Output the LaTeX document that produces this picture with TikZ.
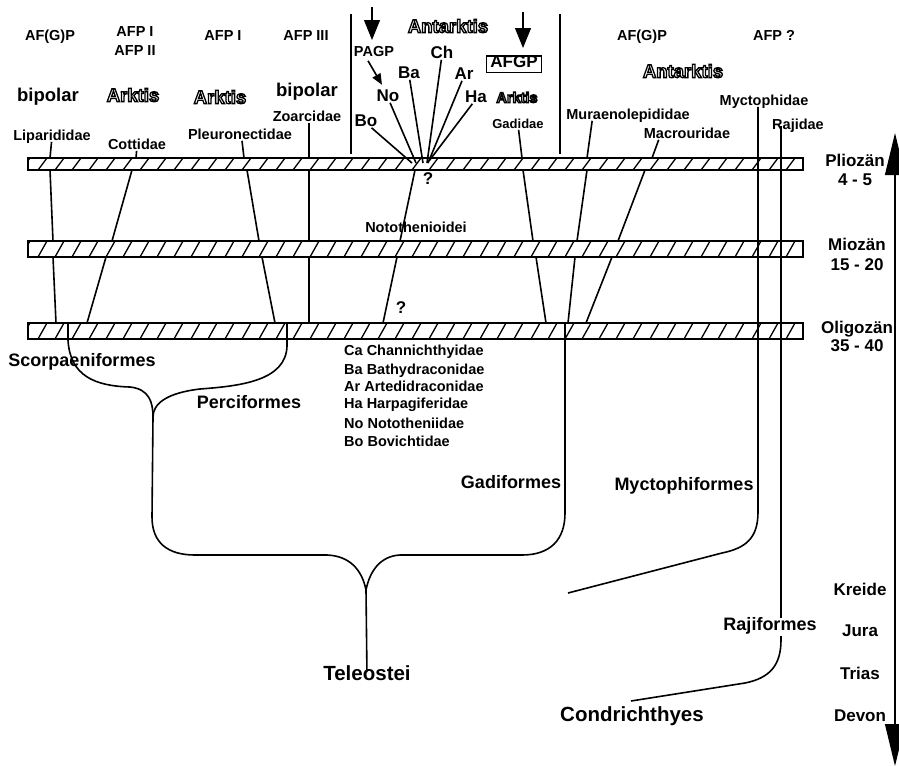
\documentclass[tikz,border=0pt]{standalone}
\usepackage{fontspec}
\setmainfont{Liberation Sans}
\usetikzlibrary{arrows.meta, positioning, calc}

% outlined lettering for the regions
\newcommand{\hollowtext}[1]{\special{pdf:literal direct 1 g 0 G 2 Tr 1.3 w}#1\special{pdf:literal direct 0 Tr 0 g}}

% hatched time band between two heights
\newcommand{\hatchband}[2]{%
  \begin{scope}
    \clip (28,#1) rectangle (803,#2);
    \fill[white] (28,#1) rectangle (803,#2);
    \foreach \hx in {21,38,...,815}
      \draw[hatch] (\hx,#2) -- ++(9,{#1-#2});
  \end{scope}
  \draw[rule] (28,#1) rectangle (803,#2);
}

\begin{document}
\begin{tikzpicture}[
    x=1pt, y=-1pt,
    every node/.style={inner sep=1pt, text height=0.72em, text depth=0pt},
    lab/.style={font=\bfseries\fontsize{14.5}{16}\selectfont},
    famtxt/.style={font=\bfseries\fontsize{17}{19}\selectfont},
    zonetxt/.style={font=\bfseries\fontsize{18.5}{20}\selectfont},
    ordertxt/.style={font=\bfseries\fontsize{18}{20}\selectfont},
    rootxt/.style={font=\bfseries\fontsize{20.5}{22}\selectfont},
    branch/.style={line width=1.6pt},
    rule/.style={line width=1.2pt},
    hatch/.style={line width=1.3pt}
]
\useasboundingbox (0,0) rectangle (899,766);

% --- time bands ---
\hatchband{158}{170}
\hatchband{241}{257}
\hatchband{323}{339}

% --- headers ---
\node[lab] (hLip) at (50,37) {AF(G)P};
\node[lab] (hCot) at (135,33) {AFP I};
\node[lab] (hCotb) at (135,52) {AFP II};
\node[lab] (hPle) at (223,37) {AFP I};
\node[lab] (hZoa) at (306,37) {AFP III};
\node[lab] (hMur) at (642,37) {AF(G)P};
\node[lab] (hMyc) at (774,37) {AFP ?};

\node[zonetxt] (zBip) at (48,98) {bipolar};
\node[zonetxt] (zArk) at (133,98) {\hollowtext{Arktis}};
\node[zonetxt] (zArkb) at (220,100) {\hollowtext{Arktis}};
\node[zonetxt] (zBipb) at (307,93) {bipolar};
\node[zonetxt] (zAnt) at (448,29) {\hollowtext{Antarktis}};
\node[lab] (zArkc) at (517,99) {\hollowtext{Arktis}};
\node[zonetxt] (zAntb) at (683,74) {\hollowtext{Antarktis}};

% --- Antarctic block ---
\coordinate (sepL) at (351,14);
\coordinate (sepR) at (560,14);
\draw[rule] (sepL) -- ++(0,140);
\draw[rule] (sepR) -- ++(0,140);
\coordinate (arrL) at (372,7);
\coordinate (arrR) at (523,12);
\draw[rule, -{Triangle[length=20pt,width=16pt]}] (arrL) -- ++(0,33);
\draw[rule, -{Triangle[length=20pt,width=16pt]}] (arrR) -- ++(0,36);

\node[lab] (pagp) at (374,53) {PAGP};
\node[famtxt] (No) at (388,98) {No};
\node[famtxt] (Ba) at (409,75) {Ba};
\node[famtxt] (Ch) at (442,55) {Ch};
\node[famtxt] (Ar) at (464,76) {Ar};
\node[famtxt] (Ha) at (476,99) {Ha};
\node[famtxt] (Bo) at (366,123) {Bo};
\node[famtxt, draw, rule, inner xsep=4pt, inner ysep=4.5pt] (afgp) at (514,64) {AFGP};
\draw[branch, -{Triangle[length=11pt,width=9pt]}] ([xshift=-6pt,yshift=-3pt]pagp.south) -- ++(14,24);

\coordinate (nodeP) at (423,163);
\draw[branch] (Bo) -- (412,163);
\draw[branch] (No) -- (416,163);
\draw[branch] (Ba) -- (423,163);
\draw[branch] (Ch) -- (427,163);
\draw[branch] (Ar) -- (428,163);
\draw[branch] (Ha) -- (429,161);
\node[famtxt] (q1) at (428,181) {?};
\node[lab] (noto) at (416,229) {Notothenioidei};
\draw[branch] (415,170) -- (400,241);
\draw[branch] (397,257) -- (383,323);
\node[famtxt] (q2) at (401,310) {?};

% --- families above the bands ---
\node[lab] (Lip) at (52,137) {Liparididae};
\node[lab] (Cot) at (137,146) {Cottidae};
\node[lab] (Ple) at (240,136) {Pleuronectidae};
\node[lab] (Zoa) at (307,118) {Zoarcidae};
\node[font=\bfseries\fontsize{13}{15}\selectfont] (Gad) at (518,125) {Gadidae};
\node[lab] (Mur) at (628,116) {Muraenolepididae};
\node[lab] (Mac) at (687,135) {Macrouridae};
\node[lab] (Myc) at (764,102) {Myctophidae};
\node[lab] (Raj) at (798,126) {Rajidae};

\draw[branch] (Lip) -- (50,158);
\draw[branch] (50,170) -- (53,241);
\draw[branch] (53,257) -- (56,323);
\draw[branch] (Cot) -- (136,158);
\draw[branch] (132,170) -- (112,241);
\draw[branch] (106,257) -- (87,323);
\draw[branch] (Ple.south) ++(2,0) -- (244,158);
\draw[branch] (247,170) -- (259,241);
\draw[branch] (262,257) -- (275,323);
\draw[branch] (Zoa.south) ++(2,0) -- (309,158);
\draw[branch] (309,170) -- (309,241);
\draw[branch] (309,257) -- (309,323);
\draw[branch] (Gad) -- (522,158);
\draw[branch] (523,170) -- (533,241);
\draw[branch] (536,257) -- (546,323);
\draw[branch] ([xshift=27pt]Mur.south west) -- (587,158);
\draw[branch] (587,170) -- (577,241);
\draw[branch] (575,257) -- (568,323);
\draw[branch] ([xshift=16pt]Mac.south west) -- (652,158);
\draw[branch] (645,170) -- (618,241);
\draw[branch] (612,257) -- (586,323);

% --- orders ---
\node[ordertxt] (Sco) at (82,363) {Scorpaeniformes};
\node[ordertxt] (Per) at (249,405) {Perciformes};
\node[ordertxt] (Gdf) at (511,485) {Gadiformes};
\node[ordertxt] (Mcf) at (684,487) {Myctophiformes};
\node[rootxt] (Tel) at (367,677) {Teleostei};
\node[rootxt] (Con) at (632,718) {Condrichthyes};

\draw[branch] (68,323) -- (68,340) .. controls (70,376) and (95,386) .. (130,387)
  .. controls (149,389) and (153,402) .. (153,417);
\draw[branch] (287,323) -- (287,346) .. controls (286,381) and (240,386) .. (200,389)
  .. controls (166,393) and (153,404) .. (153,417);
\draw[branch] (153,417) -- (152,517) .. controls (152,543) and (168,555) .. (195,555)
  -- (327,555) .. controls (350,556) and (362,570) .. (366,590);
\draw[branch] (565,323) -- (565,513) .. controls (565,540) and (550,555) .. (522,555)
  -- (400,555) .. controls (381,556) and (370,570) .. (366,590);
\draw[branch] (366,590) -- (Tel);

\coordinate (mycEnd) at (568,593);
\draw[branch] ([xshift=-6pt]Myc.south) -- (758,512) .. controls (758,538) and (746,548) .. (722,553) -- (mycEnd);
\coordinate (rajEnd) at (631,701);
\draw[branch] ([xshift=-17pt]Raj.center) -- (781,640) .. controls (781,665) and (770,678) .. (745,683) -- (rajEnd);
\node[ordertxt, fill=white, inner ysep=5pt] (Rjf) at (770,627) {Rajiformes};

% --- Notothenioid families ---
\node[lab, anchor=west] (fCa) at (343,352) {Ca Channichthyidae};
\node[lab, anchor=west] (fBa) at (343,371) {Ba Bathydraconidae};
\node[lab, anchor=west] (fAr) at (343,388) {Ar Artedidraconidae};
\node[lab, anchor=west] (fHa) at (343,405) {Ha Harpagiferidae};
\node[lab, anchor=west] (fNo) at (343,425) {No Nototheniidae};
\node[lab, anchor=west] (fBo) at (343,443) {Bo Bovichtidae};

% --- time scale ---
\node[famtxt] (tPli) at (855,163) {Pliozän};
\node[famtxt] (tPlin) at (855,182) {4 - 5};
\node[famtxt] (tMio) at (857,247) {Miozän};
\node[famtxt] (tMion) at (857,267) {15 - 20};
\node[famtxt] (tOli) at (857,330) {Oligozän};
\node[famtxt] (tOlin) at (857,348) {35 - 40};
\node[famtxt] (tKre) at (860,592) {Kreide};
\node[famtxt] (tJur) at (860,633) {Jura};
\node[famtxt] (tTri) at (860,676) {Trias};
\node[famtxt] (tDev) at (860,718) {Devon};
\coordinate (timeTop) at (895,133);
\coordinate (timeBot) at (895,766);
\draw[rule, {Triangle[length=42pt,width=20pt]}-{Triangle[length=42pt,width=20pt]}] (timeTop) -- (timeBot);

\end{tikzpicture}
\end{document}
